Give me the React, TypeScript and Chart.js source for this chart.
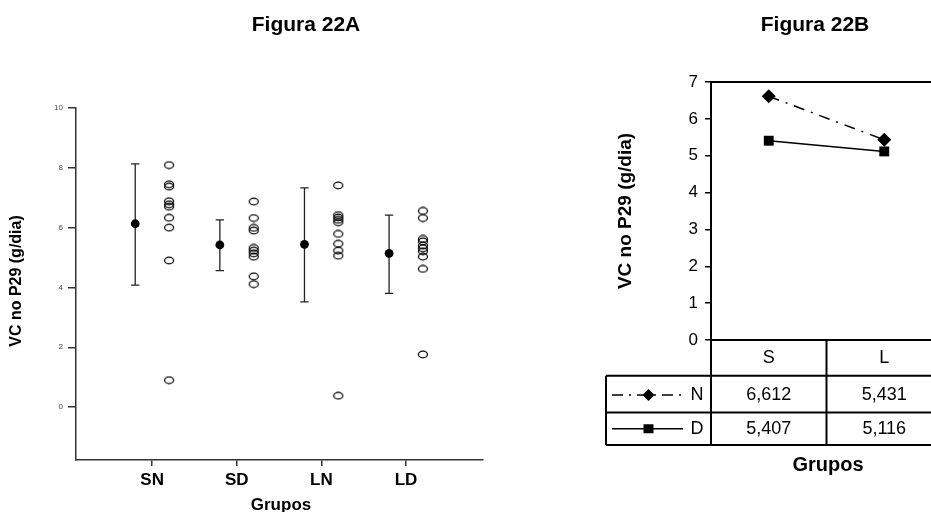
import React, { useEffect, useRef } from "react";
import { Chart, registerables } from "chart.js";

Chart.register(...registerables);

const FONT = "'Liberation Sans', Arial, Helvetica, sans-serif";

// ---- Figura 22A data ----
const groupLabels = ["SN", "SD", "LN", "LD"];
const snValues = [8.09, 7.45, 7.37, 6.88, 6.78, 6.7, 6.33, 6.0, 4.9, 0.9];
const sdValues = [6.87, 6.32, 5.99, 5.9, 5.32, 5.23, 5.14, 5.03, 4.37, 4.11];
const lnValues = [7.41, 6.42, 6.34, 6.26, 6.18, 5.79, 5.46, 5.23, 5.06, 0.38];
const ldValues = [6.56, 6.32, 5.62, 5.54, 5.4, 5.31, 5.21, 5.03, 4.62, 1.76];
const groupMeans = [6.13, 5.42, 5.44, 5.14];
const errorLow = [4.08, 4.56, 3.52, 3.8];
const errorHigh = [8.13, 6.26, 7.33, 6.42];
const leftTickValues = [0, 2, 4, 6, 8, 10];

// ---- Figura 22B data ----
const lineCategories = ["S", "L"];
const seriesNames = ["N", "D"];
const seriesN = [6.612, 5.431];
const seriesD = [5.407, 5.116];
const rightTickValues = [0, 1, 2, 3, 4, 5, 6, 7];

const fmt = (v: number) => v.toFixed(3).replace(".", ",");

function drawText(
  ctx: CanvasRenderingContext2D,
  text: string,
  x: number,
  y: number,
  font: string,
  rotate = 0,
  align: CanvasTextAlign = "center"
) {
  ctx.save();
  ctx.font = font;
  ctx.fillStyle = "#000";
  ctx.textAlign = align;
  ctx.textBaseline = "middle";
  ctx.translate(x, y);
  if (rotate) ctx.rotate(rotate);
  ctx.fillText(text, 0, 0);
  ctx.restore();
}

export default function App() {
  const leftRef = useRef<HTMLCanvasElement>(null);
  const rightRef = useRef<HTMLCanvasElement>(null);

  useEffect(() => {
    const openMarker = document.createElement("canvas");
    openMarker.width = 12;
    openMarker.height = 9;
    const oc = openMarker.getContext("2d")!;
    oc.lineWidth = 1.25;
    oc.strokeStyle = "#000";
    oc.beginPath();
    oc.ellipse(6, 4.5, 4.5, 3.3, 0, 0, Math.PI * 2);
    oc.stroke();

    const groupValues = [snValues, sdValues, lnValues, ldValues];

    const errorBars = {
      id: "errorBars",
      beforeDatasetsDraw(chart: any) {
        const { ctx } = chart;
        const xs = chart.scales.x;
        const ys = chart.scales.y;
        ctx.save();
        ctx.strokeStyle = "#222";
        ctx.lineWidth = 1.3;
        groupMeans.forEach((_, i) => {
          const x = xs.getPixelForValue(i + 1 - 0.2);
          const yl = ys.getPixelForValue(errorLow[i]);
          const yh = ys.getPixelForValue(errorHigh[i]);
          ctx.beginPath();
          ctx.moveTo(x, yl);
          ctx.lineTo(x, yh);
          ctx.moveTo(x - 4.2, yl);
          ctx.lineTo(x + 4.2, yl);
          ctx.moveTo(x - 4.2, yh);
          ctx.lineTo(x + 4.2, yh);
          ctx.stroke();
        });
        ctx.restore();
      },
    };

    const leftText = {
      id: "leftText",
      afterDraw(chart: any) {
        const { ctx } = chart;
        drawText(ctx, "Figura 22A", 306, 25, `bold 21px ${FONT}`);
        drawText(ctx, "VC no P29 (g/dia)", 17, 281, `bold 16px ${FONT}`, -Math.PI / 2);
        drawText(ctx, "Grupos", 281, 505, `bold 17px ${FONT}`);
      },
    };

    const left = new Chart(leftRef.current!, {
      type: "scatter",
      data: {
        datasets: [
          {
            label: "Média",
            data: groupMeans.map((m, i) => ({ x: i + 1 - 0.2, y: m })),
            pointStyle: "circle",
            pointRadius: 4.4,
            backgroundColor: "#000",
            borderColor: "#000",
            borderWidth: 0,
          },
          {
            label: "Individual",
            data: groupValues.flatMap((vals, i) => vals.map((v) => ({ x: i + 1 + 0.2, y: v }))),
            pointStyle: openMarker as any,
            pointRadius: 5,
            backgroundColor: "transparent",
            borderColor: "#000",
          },
        ],
      },
      options: {
        responsive: false,
        animation: false,
        devicePixelRatio: 1,
        layout: { padding: { top: 108, right: 7, bottom: 0, left: 0 } },
        plugins: { legend: { display: false }, tooltip: { enabled: false }, title: { display: false } },
        scales: {
          x: {
            type: "linear",
            min: 0.1,
            max: 4.91,
            afterBuildTicks: (s: any) => {
              s.ticks = groupLabels.map((_, i) => ({ value: i + 1 }));
            },
            afterFit: (s: any) => {
              s.height = 52;
            },
            ticks: {
              callback: (v: any) => groupLabels[Math.round(Number(v)) - 1] ?? "",
              font: { family: FONT, size: 17, weight: "bold" },
              color: "#000",
              padding: 4,
              autoSkip: false,
              maxRotation: 0,
            },
            grid: { drawOnChartArea: false, drawTicks: true, tickLength: 6, color: "#333", lineWidth: 1.5 },
            border: { display: true, color: "#333", width: 1.5 },
          },
          y: {
            type: "linear",
            min: -1.77,
            max: 10,
            afterBuildTicks: (s: any) => {
              s.ticks = leftTickValues.map((v) => ({ value: v }));
            },
            afterFit: (s: any) => {
              s.width = 76;
            },
            ticks: { font: { family: FONT, size: 8 }, color: "#444", padding: 5 },
            grid: { drawOnChartArea: false, tickLength: 8, color: "#333", lineWidth: 1.5 },
            border: { display: true, color: "#333", width: 1.5 },
          },
        },
      } as any,
      plugins: [errorBars, leftText],
    });

    const tablePlugin = {
      id: "tablePlugin",
      afterDraw(chart: any) {
        const { ctx, chartArea } = chart;
        const xs = chart.scales.x;
        const cx = lineCategories.map((_, i) => xs.getPixelForValue(i));
        const colLeft = chartArea.left;
        const colRight = chartArea.right;
        const colMid = (cx[0] + cx[1]) / 2;
        const legendLeft = colLeft - 105;
        const r0 = chartArea.bottom;
        const r1 = r0 + 35.7;
        const r2 = r1 + 36.7;
        const r3 = r2 + 32.7;

        ctx.save();
        ctx.strokeStyle = "#000";
        ctx.lineWidth = 2;
        ctx.setLineDash([]);
        ctx.beginPath();
        // plot frame
        ctx.moveTo(colLeft, chartArea.top);
        ctx.lineTo(colRight, chartArea.top);
        ctx.moveTo(colRight, chartArea.top);
        ctx.lineTo(colRight, r3);
        // table horizontal lines
        ctx.moveTo(colLeft, r0);
        ctx.lineTo(colRight, r0);
        ctx.moveTo(legendLeft, r1);
        ctx.lineTo(colRight, r1);
        ctx.moveTo(legendLeft, r2);
        ctx.lineTo(colRight, r2);
        ctx.moveTo(legendLeft, r3);
        ctx.lineTo(colRight, r3);
        // verticals
        ctx.moveTo(colLeft, r0);
        ctx.lineTo(colLeft, r3);
        ctx.moveTo(colMid, r0);
        ctx.lineTo(colMid, r3);
        ctx.moveTo(legendLeft, r1);
        ctx.lineTo(legendLeft, r3);
        ctx.stroke();
        ctx.restore();

        const f = `18px ${FONT}`;
        lineCategories.forEach((c, i) => drawText(ctx, c, cx[i], (r0 + r1) / 2, f));
        seriesN.forEach((v, i) => drawText(ctx, fmt(v), cx[i], (r1 + r2) / 2 + 1, f));
        seriesD.forEach((v, i) => drawText(ctx, fmt(v), cx[i], (r2 + r3) / 2, f));

        // legend samples
        const rowsY = [(r1 + r2) / 2 + 1, (r2 + r3) / 2];
        const lx0 = legendLeft + 6;
        const lx1 = legendLeft + 77;
        const mx = legendLeft + 42.5;
        rowsY.forEach((y, k) => {
          ctx.save();
          ctx.strokeStyle = "#000";
          ctx.lineWidth = 1.5;
          ctx.setLineDash(k === 0 ? [11, 6, 2, 6] : []);
          ctx.beginPath();
          ctx.moveTo(lx0, y);
          ctx.lineTo(lx1, y);
          ctx.stroke();
          ctx.setLineDash([]);
          ctx.fillStyle = "#000";
          ctx.beginPath();
          if (k === 0) {
            ctx.moveTo(mx - 6, y);
            ctx.lineTo(mx, y - 6);
            ctx.lineTo(mx + 6, y);
            ctx.lineTo(mx, y + 6);
            ctx.closePath();
          } else {
            ctx.rect(mx - 5, y - 4.5, 10, 9);
          }
          ctx.fill();
          ctx.restore();
          drawText(ctx, seriesNames[k], colLeft - 14, y, f);
        });

        drawText(ctx, "Figura 22B", 225, 25, `bold 21px ${FONT}`);
        drawText(ctx, "VC no P29 (g/dia)", 36, 211, `bold 19px ${FONT}`, -Math.PI / 2);
        drawText(ctx, "Grupos", 238, 465, `bold 20px ${FONT}`);
      },
    };

    const right = new Chart(rightRef.current!, {
      type: "line",
      data: {
        labels: lineCategories,
        datasets: [
          {
            label: seriesNames[0],
            data: seriesN,
            borderColor: "#000",
            borderWidth: 1.5,
            borderDash: [11, 7, 2, 7],
            pointStyle: "rectRot",
            pointRadius: 7,
            pointBackgroundColor: "#000",
            pointBorderColor: "#000",
            pointBorderWidth: 0,
            tension: 0,
          },
          {
            label: seriesNames[1],
            data: seriesD,
            borderColor: "#000",
            borderWidth: 1.5,
            pointStyle: "rect",
            pointRadius: 7,
            pointBackgroundColor: "#000",
            pointBorderColor: "#000",
            pointBorderWidth: 0,
            tension: 0,
          },
        ],
      },
      options: {
        responsive: false,
        animation: false,
        devicePixelRatio: 1,
        layout: { padding: { top: 82, right: 8, bottom: 172, left: 0 } },
        plugins: { legend: { display: false }, tooltip: { enabled: false }, title: { display: false } },
        scales: {
          x: { type: "category", display: false, offset: true },
          y: {
            min: 0,
            max: 7,
            afterBuildTicks: (s: any) => {
              s.ticks = rightTickValues.map((v) => ({ value: v }));
            },
            afterFit: (s: any) => {
              s.width = 121;
            },
            ticks: { font: { family: FONT, size: 17 }, color: "#000", padding: 7 },
            grid: { drawOnChartArea: false, tickLength: 6, color: "#000", lineWidth: 1.5 },
            border: { display: true, color: "#000", width: 2 },
          },
        },
      } as any,
      plugins: [tablePlugin],
    });

    return () => {
      left.destroy();
      right.destroy();
    };
  }, []);

  return (
    <div
      style={{
        position: "fixed",
        left: 0,
        top: 0,
        width: 931,
        height: 512,
        overflow: "hidden",
        background: "#fff",
      }}
    >
      <canvas
        ref={leftRef}
        width={490}
        height={512}
        style={{ position: "absolute", left: 0, top: 0, width: 490, height: 512 }}
      />
      <canvas
        ref={rightRef}
        width={360}
        height={512}
        style={{ position: "absolute", left: 590, top: 0, width: 360, height: 512 }}
      />
    </div>
  );
}
